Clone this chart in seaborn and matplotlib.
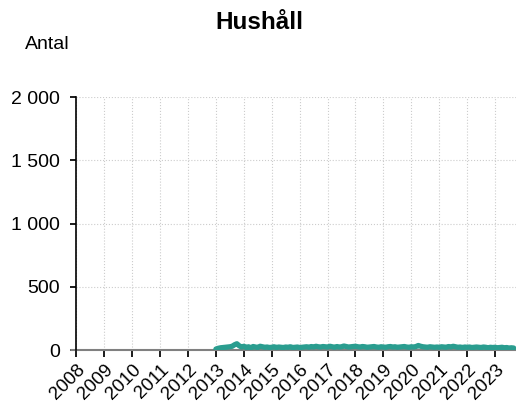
import pandas as pd
import matplotlib.pyplot as plt
import seaborn as sns
from matplotlib.ticker import FuncFormatter

sns.set_theme(style="whitegrid")
plt.rcParams['font.family'] = ['Liberation Sans', 'DejaVu Sans']
plt.rcParams['text.color'] = 'black'
plt.rcParams['xtick.labelcolor'] = 'black'
plt.rcParams['ytick.labelcolor'] = 'black'

# monthly values, Jan 2013 - Sep 2023
values_2013 = [8, 14, 18, 20, 22, 24, 26, 30, 42, 50, 34, 24]
values_2014 = [30, 20, 26, 18, 28, 24, 20, 30, 26, 22, 24, 20]
values_2015 = [22, 26, 20, 24, 22, 20, 24, 22, 26, 20, 22, 24]
values_2016 = [20, 22, 24, 26, 22, 28, 24, 30, 26, 24, 28, 26]
values_2017 = [24, 30, 26, 22, 28, 24, 26, 32, 28, 24, 26, 28]
values_2018 = [30, 26, 24, 28, 26, 22, 24, 26, 28, 24, 22, 26]
values_2019 = [24, 22, 26, 28, 24, 26, 22, 24, 26, 28, 24, 22]
values_2020 = [26, 24, 28, 36, 30, 26, 24, 22, 26, 24, 22, 24]
values_2021 = [22, 26, 24, 22, 28, 24, 30, 26, 22, 24, 20, 24]
values_2022 = [22, 24, 20, 22, 24, 22, 20, 24, 22, 18, 22, 20]
values_2023 = [22, 18, 20, 22, 18, 20, 16, 18, 16]

values = (values_2013 + values_2014 + values_2015 + values_2016 + values_2017 +
          values_2018 + values_2019 + values_2020 + values_2021 + values_2022 +
          values_2023)
years = list(range(2008, 2024))

df = pd.DataFrame({'date': [2013 + i / 12 for i in range(len(values))],
                   'antal': values})

fig = plt.figure(figsize=(5.16, 4.08), dpi=100)
ax = fig.add_axes([0.148, 0.142, 0.852, 0.62])

ax.axhline(0, color='#808080', lw=1.5, xmin=-0.012, clip_on=False, zorder=1)
sns.lineplot(data=df, x='date', y='antal', ax=ax, color='#2a9d8f', lw=3.8, zorder=3)

ax.set_xlim(2008, 2023.75)
ax.set_ylim(0, 2000)
ax.set_xticks(years)
ax.set_xticklabels([str(y) for y in years], rotation=45, ha='right',
                   rotation_mode='anchor', fontsize=13.5)
ax.set_yticks([0, 500, 1000, 1500, 2000])
ax.yaxis.set_major_formatter(FuncFormatter(lambda v, p: f"{int(v):,}".replace(',', ' ')))
ax.tick_params(axis='y', labelsize=14, length=4, color='black', left=True, pad=8)
ax.tick_params(axis='x', length=5, color='black', bottom=True, pad=3)
ax.grid(True, color='#cccccc', ls=':', lw=0.8)
ax.set_facecolor('white')
for s in ['top', 'right', 'bottom']:
    ax.spines[s].set_visible(False)
ax.spines['left'].set_color('black')
ax.spines['left'].set_linewidth(1.2)
ax.set_xlabel('')
ax.set_ylabel('')

fig.text(0.502, 0.945, 'Hushåll', ha='center', va='center', fontsize=17.5, fontweight='bold')
fig.text(0.048, 0.89, 'Antal', ha='left', va='center', fontsize=14)

fig.savefig('out.png', dpi=100)
